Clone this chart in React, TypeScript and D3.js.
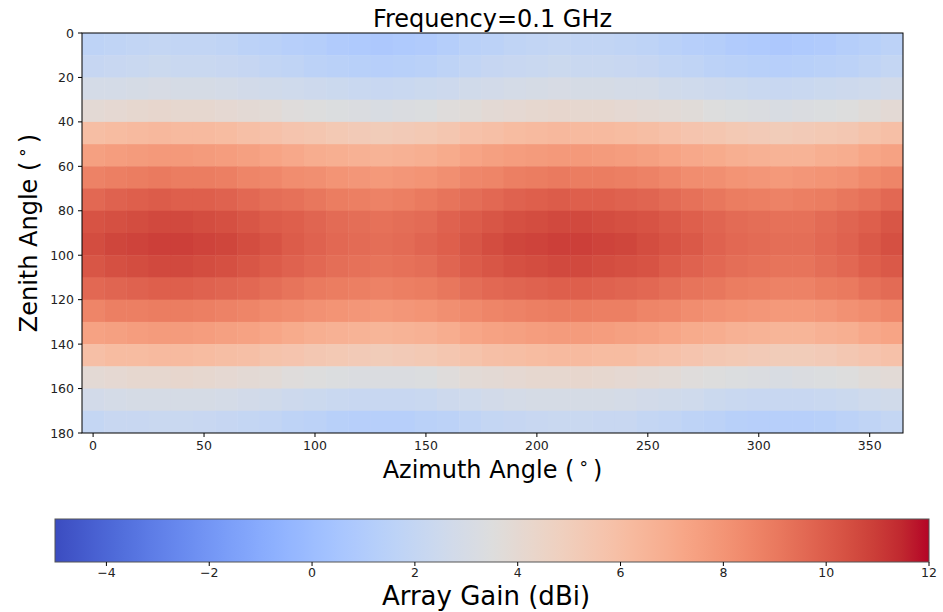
import React from "react";
import * as d3 from "d3";

// Azimuth samples (deg), one heatmap column each
const azimuths: number[] = d3.range(0, 361, 10);
// Zenith bands (deg), top edge of each heatmap row
const zeniths: number[] = d3.range(0, 180, 10);

// Array gain (dBi), one row per zenith band, one value per azimuth
const gainRows: number[][] = [
  [1.7, 1.8, 1.9, 2.0, 1.9, 1.9, 1.8, 1.6, 1.5, 1.3, 1.2, 1.0, 0.9, 0.8, 0.9, 1.0, 1.2, 1.5, 1.6, 1.8, 1.9, 2.0, 1.9, 1.9, 1.8, 1.7, 1.5, 1.3, 1.2, 1.0, 0.9, 0.8, 0.9, 1.0, 1.2, 1.4, 1.6],
  [2.1, 2.2, 2.3, 2.4, 2.3, 2.3, 2.2, 2.1, 1.9, 1.8, 1.6, 1.5, 1.4, 1.3, 1.4, 1.5, 1.7, 1.9, 2.1, 2.2, 2.3, 2.4, 2.3, 2.3, 2.2, 2.1, 1.9, 1.8, 1.6, 1.5, 1.4, 1.3, 1.4, 1.5, 1.6, 1.8, 2.0],
  [2.9, 2.9, 3.0, 3.1, 3.0, 3.0, 2.9, 2.8, 2.7, 2.6, 2.5, 2.4, 2.3, 2.2, 2.3, 2.4, 2.5, 2.7, 2.8, 2.9, 3.0, 3.1, 3.0, 3.0, 2.9, 2.9, 2.7, 2.6, 2.5, 2.4, 2.3, 2.2, 2.3, 2.4, 2.5, 2.6, 2.8],
  [3.9, 4.0, 4.1, 4.2, 4.1, 4.1, 4.0, 3.9, 3.8, 3.6, 3.5, 3.4, 3.3, 3.2, 3.3, 3.4, 3.6, 3.7, 3.9, 4.0, 4.1, 4.2, 4.1, 4.1, 4.0, 3.9, 3.8, 3.7, 3.5, 3.4, 3.3, 3.2, 3.3, 3.4, 3.5, 3.7, 3.9],
  [6.0, 6.1, 6.2, 6.3, 6.2, 6.2, 6.1, 5.9, 5.8, 5.6, 5.5, 5.3, 5.2, 5.1, 5.2, 5.3, 5.5, 5.8, 5.9, 6.1, 6.2, 6.3, 6.2, 6.2, 6.1, 6.0, 5.8, 5.6, 5.5, 5.3, 5.2, 5.1, 5.2, 5.3, 5.4, 5.7, 5.9],
  [7.5, 7.6, 7.7, 7.8, 7.8, 7.7, 7.6, 7.5, 7.3, 7.1, 6.9, 6.8, 6.7, 6.6, 6.7, 6.8, 7.0, 7.3, 7.5, 7.6, 7.7, 7.8, 7.8, 7.7, 7.6, 7.5, 7.3, 7.1, 7.0, 6.8, 6.7, 6.6, 6.6, 6.8, 6.9, 7.2, 7.4],
  [8.7, 8.8, 8.9, 9.0, 8.9, 8.9, 8.8, 8.6, 8.5, 8.3, 8.2, 8.0, 7.9, 7.8, 7.9, 8.0, 8.2, 8.5, 8.6, 8.8, 8.9, 9.0, 8.9, 8.9, 8.8, 8.7, 8.5, 8.3, 8.2, 8.0, 7.9, 7.8, 7.9, 8.0, 8.1, 8.4, 8.6],
  [9.6, 9.8, 9.9, 10.0, 9.9, 9.9, 9.8, 9.6, 9.4, 9.3, 9.1, 8.9, 8.8, 8.7, 8.8, 9.0, 9.2, 9.4, 9.6, 9.8, 9.9, 10.0, 9.9, 9.9, 9.8, 9.7, 9.5, 9.3, 9.1, 8.9, 8.8, 8.7, 8.8, 8.9, 9.1, 9.3, 9.6],
  [10.3, 10.4, 10.5, 10.6, 10.6, 10.5, 10.4, 10.2, 10.0, 9.9, 9.7, 9.5, 9.4, 9.3, 9.4, 9.5, 9.8, 10.0, 10.2, 10.4, 10.5, 10.6, 10.6, 10.5, 10.4, 10.3, 10.1, 9.9, 9.7, 9.5, 9.4, 9.3, 9.3, 9.5, 9.7, 9.9, 10.2],
  [10.5, 10.7, 10.8, 10.9, 10.9, 10.8, 10.7, 10.5, 10.3, 10.0, 9.8, 9.6, 9.5, 9.4, 9.5, 9.7, 9.9, 10.2, 10.5, 10.7, 10.8, 10.9, 10.9, 10.8, 10.7, 10.5, 10.3, 10.1, 9.8, 9.6, 9.5, 9.4, 9.4, 9.6, 9.8, 10.1, 10.4],
  [10.2, 10.4, 10.5, 10.6, 10.6, 10.5, 10.4, 10.2, 10.0, 9.8, 9.6, 9.4, 9.3, 9.2, 9.3, 9.4, 9.7, 10.0, 10.2, 10.4, 10.5, 10.6, 10.6, 10.5, 10.4, 10.3, 10.0, 9.8, 9.6, 9.4, 9.3, 9.2, 9.2, 9.4, 9.6, 9.9, 10.1],
  [9.6, 9.7, 9.8, 9.9, 9.9, 9.8, 9.7, 9.6, 9.4, 9.2, 9.0, 8.9, 8.8, 8.7, 8.8, 8.9, 9.1, 9.4, 9.6, 9.7, 9.8, 9.9, 9.9, 9.8, 9.7, 9.6, 9.4, 9.2, 9.1, 8.9, 8.8, 8.7, 8.7, 8.9, 9.0, 9.3, 9.5],
  [8.6, 8.8, 8.8, 8.9, 8.9, 8.8, 8.7, 8.6, 8.4, 8.3, 8.1, 8.0, 7.9, 7.8, 7.9, 8.0, 8.2, 8.4, 8.6, 8.7, 8.8, 8.9, 8.9, 8.8, 8.8, 8.6, 8.5, 8.3, 8.1, 8.0, 7.9, 7.8, 7.8, 7.9, 8.1, 8.3, 8.5],
  [7.4, 7.5, 7.6, 7.7, 7.7, 7.6, 7.5, 7.4, 7.2, 7.0, 6.8, 6.7, 6.6, 6.5, 6.6, 6.7, 6.9, 7.2, 7.4, 7.5, 7.6, 7.7, 7.7, 7.6, 7.5, 7.4, 7.2, 7.0, 6.9, 6.7, 6.6, 6.5, 6.5, 6.7, 6.8, 7.1, 7.3],
  [5.9, 6.1, 6.1, 6.2, 6.2, 6.1, 6.0, 5.9, 5.7, 5.6, 5.4, 5.3, 5.2, 5.1, 5.2, 5.3, 5.5, 5.7, 5.9, 6.0, 6.1, 6.2, 6.2, 6.1, 6.1, 5.9, 5.8, 5.6, 5.4, 5.3, 5.2, 5.1, 5.1, 5.2, 5.4, 5.6, 5.8],
  [3.9, 4.0, 4.1, 4.1, 4.2, 4.1, 4.0, 3.9, 3.8, 3.6, 3.5, 3.4, 3.3, 3.3, 3.3, 3.4, 3.6, 3.8, 3.9, 4.0, 4.1, 4.1, 4.2, 4.1, 4.0, 3.9, 3.8, 3.6, 3.5, 3.4, 3.3, 3.2, 3.3, 3.4, 3.5, 3.7, 3.8],
  [2.8, 2.9, 3.0, 3.0, 3.0, 3.0, 2.9, 2.8, 2.7, 2.5, 2.4, 2.3, 2.2, 2.2, 2.2, 2.3, 2.5, 2.6, 2.8, 2.9, 3.0, 3.0, 3.0, 3.0, 2.9, 2.8, 2.7, 2.6, 2.4, 2.3, 2.2, 2.2, 2.2, 2.3, 2.4, 2.6, 2.7],
  [2.0, 2.2, 2.2, 2.3, 2.3, 2.2, 2.1, 2.0, 1.9, 1.7, 1.6, 1.4, 1.3, 1.3, 1.3, 1.5, 1.6, 1.8, 2.0, 2.1, 2.2, 2.3, 2.3, 2.2, 2.2, 2.0, 1.9, 1.7, 1.6, 1.4, 1.3, 1.3, 1.3, 1.4, 1.6, 1.8, 2.0],
];

const xTicks: number[] = [0, 50, 100, 150, 200, 250, 300, 350];
const yTicks: number[] = [0, 20, 40, 60, 80, 100, 120, 140, 160, 180];
const cbarTicks: number[] = [-4, -2, 0, 2, 4, 6, 8, 10, 12];
const gainRange: [number, number] = [-5, 12];

// Cool-to-warm diverging colour map (Moreland)
const coolwarmStops: string[] = [
  "#3b4cc0", "#445acc", "#4d68d7", "#5775e1", "#6282ea", "#6c8ef1", "#779af7", "#82a5fb",
  "#8db0fe", "#98b9ff", "#a3c2ff", "#aec9fd", "#b8d0f9", "#c2d5f4", "#ccd9ee", "#d5dbe6",
  "#dddddd", "#e5d8d1", "#ecd3c5", "#f1ccb9", "#f5c4ad", "#f7bba0", "#f7b194", "#f7a687",
  "#f49a7b", "#f18d6f", "#ec7f63", "#e57058", "#de604d", "#d55042", "#cb3e38", "#c0282f",
  "#b40426",
];

const W = 943;
const H = 612;
const FONT = "DejaVu Sans, sans-serif";
const TICK_FONT = 12.5;
const LABEL_FONT = 24;

function AngleLabel(props: { x?: number; y?: number; transform?: string; text: string }) {
  return (
    <text
      x={props.x}
      y={props.y}
      transform={props.transform}
      textAnchor="middle"
      fontFamily={FONT}
      fontSize={LABEL_FONT}
      fill="#000"
    >
      {props.text} (<tspan dx="5" dy="-4" fontSize={17}>°</tspan>
      <tspan dx="5" dy="4">)</tspan>
    </text>
  );
}

export default function App() {
  const coolwarm = d3.piecewise(d3.interpolateRgb, coolwarmStops);
  const color = d3.scaleSequential(coolwarm).domain(gainRange);

  const x = d3.scaleLinear().domain([-5, 365]).range([82, 903]);
  const y = d3.scaleLinear().domain([0, 180]).range([33, 433]);

  const cb = d3.scaleLinear().domain(gainRange).range([55, 929]);
  const cbTop = 519;
  const cbBottom = 562;

  const gradStops = d3.range(0, 1.0001, 1 / 64);

  const cells: React.ReactElement[] = [];
  gainRows.forEach((row, ri) => {
    row.forEach((v, ci) => {
      const az = azimuths[ci];
      const zen = zeniths[ri];
      const x0 = x(az - 5);
      const x1 = x(az + 5);
      const y0 = y(zen);
      const y1 = y(zen + 10);
      cells.push(
        <rect
          key={`${ri}-${ci}`}
          x={x0}
          y={y0}
          width={x1 - x0 + 0.5}
          height={y1 - y0 + 0.5}
          fill={color(v)}
        />
      );
    });
  });

  return (
    <svg width={W} height={H} style={{ position: "absolute", left: 0, top: 0, background: "#fff" }}>
      <defs>
        <linearGradient id="cbar" x1="0" x2="1" y1="0" y2="0">
          {gradStops.map((t, i) => (
            <stop key={i} offset={t} stopColor={coolwarm(t)} />
          ))}
        </linearGradient>
        <clipPath id="plotClip">
          <rect x={82} y={33} width={903 - 82} height={433 - 33} />
        </clipPath>
      </defs>

      <text x={492.5} y={27} textAnchor="middle" fontFamily={FONT} fontSize={24} fill="#000">
        Frequency=0.1 GHz
      </text>

      <g clipPath="url(#plotClip)">{cells}</g>
      <rect x={82} y={33} width={903 - 82} height={433 - 33} fill="none" stroke="#000" strokeWidth={1} />

      {/* y axis */}
      {yTicks.map((t) => (
        <g key={`y${t}`}>
          <line x1={78} x2={82} y1={y(t)} y2={y(t)} stroke="#000" strokeWidth={1} />
          <text x={74} y={y(t) + 4.5} textAnchor="end" fontFamily={FONT} fontSize={TICK_FONT} fill="#222">
            {t}
          </text>
        </g>
      ))}
      <AngleLabel transform="translate(37, 233) rotate(-90)" text="Zenith Angle" />

      {/* x axis */}
      {xTicks.map((t) => (
        <g key={`x${t}`}>
          <line x1={x(t)} x2={x(t)} y1={433} y2={437} stroke="#000" strokeWidth={1} />
          <text x={x(t)} y={450} textAnchor="middle" fontFamily={FONT} fontSize={TICK_FONT} fill="#222">
            {t}
          </text>
        </g>
      ))}
      <AngleLabel x={492.5} y={478} text="Azimuth Angle" />

      {/* colour bar */}
      <rect
        x={cb(gainRange[0])}
        y={cbTop}
        width={cb(gainRange[1]) - cb(gainRange[0])}
        height={cbBottom - cbTop}
        fill="url(#cbar)"
        stroke="#555"
        strokeWidth={1}
      />
      {cbarTicks.map((t) => (
        <g key={`c${t}`}>
          <line x1={cb(t)} x2={cb(t)} y1={cbBottom} y2={cbBottom + 4} stroke="#000" strokeWidth={1} />
          <text x={cb(t)} y={577} textAnchor="middle" fontFamily={FONT} fontSize={TICK_FONT} fill="#222">
            {t < 0 ? `\u2212${Math.abs(t)}` : t}
          </text>
        </g>
      ))}
      <text x={486} y={605} textAnchor="middle" fontFamily={FONT} fontSize={26} fill="#000">
        Array Gain (dBi)
      </text>
    </svg>
  );
}
